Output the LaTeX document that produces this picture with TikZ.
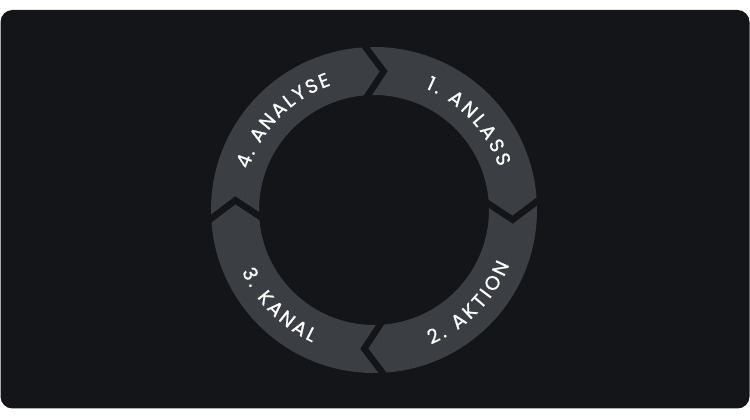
\documentclass[tikz,border=0pt]{standalone}
\usepackage{fontspec}
\setmainfont{Poppins}
\newfontfamily\labelfont{Poppins}[FakeBold=0.9]
\usetikzlibrary{decorations.text,calc}
\definecolor{bgdark}{RGB}{20,21,24}
\definecolor{ringgray}{RGB}{59,62,67}
\begin{document}
\begin{tikzpicture}[x=1pt,y=1pt]

    \tikzset{gapstyle/.style={draw=bgdark,line width=6.5pt},
        labelstyle/.style={decorate,decoration={text along path,
            text align={fit to path},text color=white,
            text={|\labelfont\fontsize{19.5}{19.5}\selectfont|#1}}}}
    \useasboundingbox (0,0) rectangle (750,420);
    \fill[white] (0,0) rectangle (750,420);
    \fill[bgdark,rounded corners=12] (0.5,11.5) rectangle (749.5,410);

    \coordinate (c) at (374,210);
    \fill[ringgray,even odd rule] (c) circle[radius=163] (c) circle[radius=115];

    % arrow gaps between the four parts
    \foreach \g/\nm in {93/t,3/r,-87/b,183/l}{
        \coordinate (g\nm-out) at ($(c)+(\g:163)$);
        \coordinate (g\nm-in) at ($(c)+(\g:115)$);
        \coordinate (g\nm-tip) at ($(c)+(\g-7:139)$);
        \draw[gapstyle] ($(g\nm-tip)!1.4!(g\nm-in)$) -- (g\nm-tip)
            -- ($(g\nm-tip)!1.4!(g\nm-out)$);
    }

    \path[labelstyle={1. ANLASS}] ($(c)+(67:132)$) arc[start angle=67,end angle=19,radius=132];
    \path[labelstyle={4. ANALYSE}] ($(c)+(162:132)$) arc[start angle=162,end angle=109,radius=132];
    \path[labelstyle={2. AKTION}] ($(c)+(-67:146)$) arc[start angle=-67,end angle=-22,radius=146];
    \path[labelstyle={3. KANAL}] ($(c)+(205:146)$) arc[start angle=205,end angle=245,radius=146];
\end{tikzpicture}
\end{document}
